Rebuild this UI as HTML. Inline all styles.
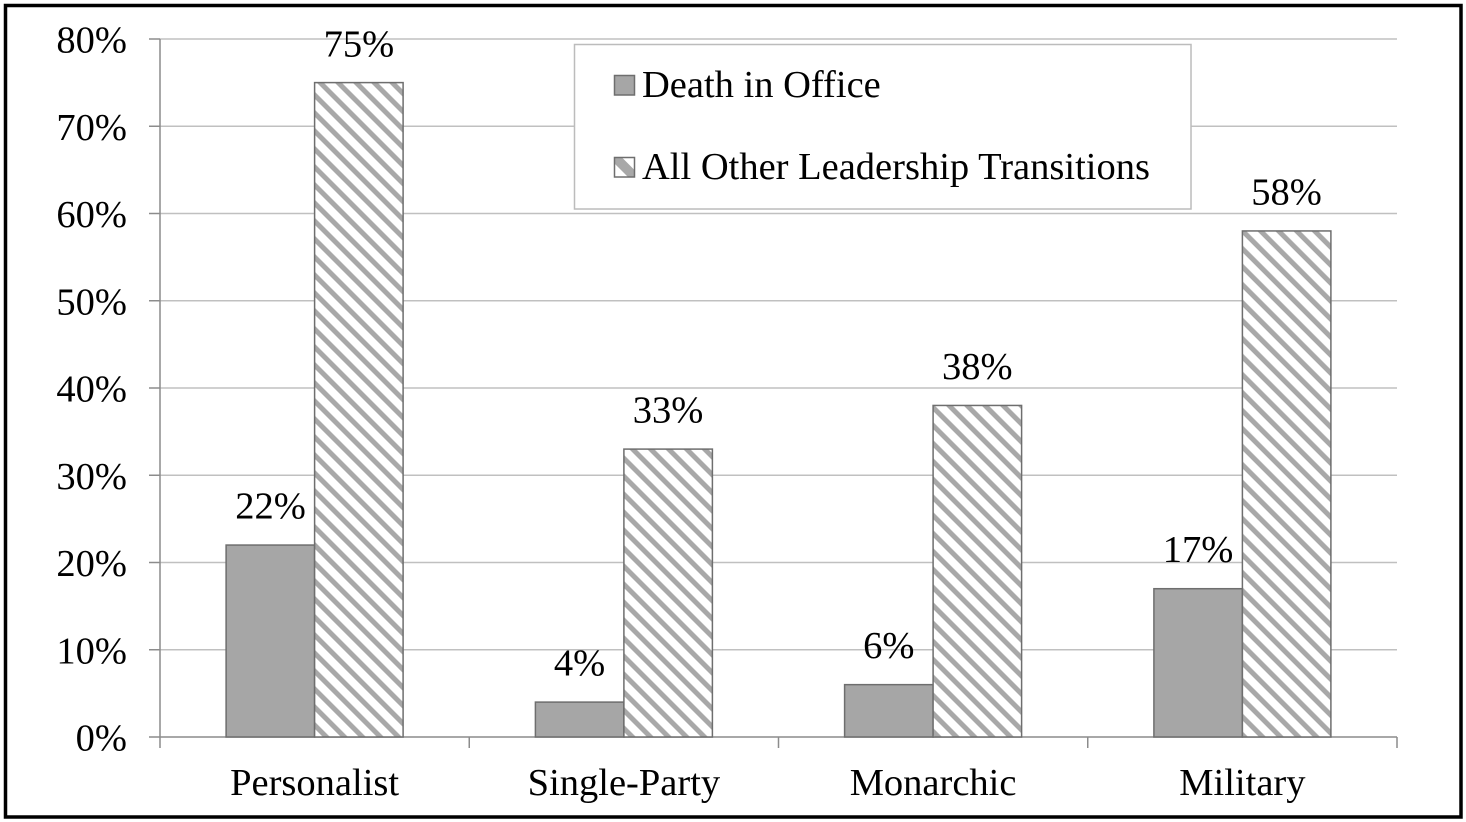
<!DOCTYPE html>
<html>
<head>
<meta charset="utf-8">
<style>
  html, body { margin:0; padding:0; background:#fff; }
  svg { display:block; }
  text { font-family: "Liberation Serif", "Times New Roman", serif; fill:#000; }
</style>
</head>
<body>
<svg width="1466" height="822" viewBox="0 0 1466 822" xmlns="http://www.w3.org/2000/svg">
  <defs>
    <pattern id="hatch" patternUnits="userSpaceOnUse" width="12.73" height="12.73" patternTransform="rotate(-45)">
      <rect x="0" y="0" width="12.73" height="12.73" fill="#ffffff"/>
      <rect x="0" y="0" width="5" height="12.73" fill="#a8a8a8"/>
    </pattern>
    <clipPath id="lgclip">
      <rect x="614.5" y="157.5" width="20" height="19.5"/>
    </clipPath>
  </defs>

  <rect x="0" y="0" width="1466" height="822" fill="#fff"/>

  <!-- gridlines -->
  <g stroke="#c0c0c0" stroke-width="1.5">
    <line x1="160" y1="39" x2="1397" y2="39"/>
    <line x1="160" y1="126.25" x2="1397" y2="126.25"/>
    <line x1="160" y1="213.5" x2="1397" y2="213.5"/>
    <line x1="160" y1="300.75" x2="1397" y2="300.75"/>
    <line x1="160" y1="388" x2="1397" y2="388"/>
    <line x1="160" y1="475.25" x2="1397" y2="475.25"/>
    <line x1="160" y1="562.5" x2="1397" y2="562.5"/>
    <line x1="160" y1="649.75" x2="1397" y2="649.75"/>
  </g>

  <!-- axes -->
  <g stroke="#8c8c8c" stroke-width="1.5">
    <line x1="160" y1="39" x2="160" y2="748"/>
    <line x1="149" y1="737" x2="1397" y2="737"/>
    <line x1="149" y1="39" x2="160" y2="39"/>
    <line x1="149" y1="126.25" x2="160" y2="126.25"/>
    <line x1="149" y1="213.5" x2="160" y2="213.5"/>
    <line x1="149" y1="300.75" x2="160" y2="300.75"/>
    <line x1="149" y1="388" x2="160" y2="388"/>
    <line x1="149" y1="475.25" x2="160" y2="475.25"/>
    <line x1="149" y1="562.5" x2="160" y2="562.5"/>
    <line x1="149" y1="649.75" x2="160" y2="649.75"/>
    <line x1="469.25" y1="737" x2="469.25" y2="748"/>
    <line x1="778.5" y1="737" x2="778.5" y2="748"/>
    <line x1="1087.75" y1="737" x2="1087.75" y2="748"/>
    <line x1="1397" y1="737" x2="1397" y2="748"/>
  </g>

  <!-- bars -->
  <g stroke="#6e6e6e" stroke-width="1.5">
    <rect x="226.1" y="545.05" width="88.5" height="191.95" fill="#a6a6a6"/>
    <rect x="314.6" y="82.6" width="88.5" height="654.4" fill="url(#hatch)"/>

    <rect x="535.4" y="702.1" width="88.5" height="34.9" fill="#a6a6a6"/>
    <rect x="623.9" y="449.1" width="88.5" height="287.9" fill="url(#hatch)"/>

    <rect x="844.6" y="684.65" width="88.5" height="52.35" fill="#a6a6a6"/>
    <rect x="933.1" y="405.45" width="88.5" height="331.55" fill="url(#hatch)"/>

    <rect x="1153.9" y="588.7" width="88.5" height="148.3" fill="#a6a6a6"/>
    <rect x="1242.4" y="230.95" width="88.5" height="506.05" fill="url(#hatch)"/>
  </g>

  <!-- y labels -->
  <g font-size="38.5" text-anchor="end">
    <text x="127" y="52.5">80%</text>
    <text x="127" y="139.75">70%</text>
    <text x="127" y="227">60%</text>
    <text x="127" y="314.25">50%</text>
    <text x="127" y="401.5">40%</text>
    <text x="127" y="488.75">30%</text>
    <text x="127" y="576">20%</text>
    <text x="127" y="663.25">10%</text>
    <text x="127" y="750.5">0%</text>
  </g>

  <!-- data labels -->
  <g font-size="38.5" text-anchor="middle">
    <text x="270.6" y="518.5">22%</text>
    <text x="358.9" y="56.5">75%</text>
    <text x="579.6" y="675.5">4%</text>
    <text x="668.1" y="422.5">33%</text>
    <text x="888.8" y="658">6%</text>
    <text x="977.3" y="379">38%</text>
    <text x="1198.1" y="562">17%</text>
    <text x="1286.6" y="204.5">58%</text>
  </g>

  <!-- x labels -->
  <g font-size="38.5" text-anchor="middle">
    <text x="314.6" y="795">Personalist</text>
    <text x="623.9" y="795">Single-Party</text>
    <text x="933.1" y="795">Monarchic</text>
    <text x="1242.4" y="795">Military</text>
  </g>

  <!-- legend -->
  <rect x="574.5" y="44.5" width="616.5" height="164.5" fill="#fff" stroke="#bcbcbc" stroke-width="1.5"/>
  <rect x="614.5" y="75.5" width="20" height="19.5" fill="#a6a6a6" stroke="#6e6e6e" stroke-width="1.5"/>
  <rect x="614.5" y="157.5" width="20" height="19.5" fill="#ffffff"/>
  <g clip-path="url(#lgclip)">
    <polygon points="614.5,157.5 622,157.5 634.5,170 634.5,177 628,177 614.5,163.5" fill="#a8a8a8"/>
  </g>
  <rect x="614.5" y="157.5" width="20" height="19.5" fill="none" stroke="#6e6e6e" stroke-width="1.5"/>
  <text x="642" y="97" font-size="38.5">Death in Office</text>
  <text x="642" y="179" font-size="38.5">All Other Leadership Transitions</text>

  <!-- outer border -->
  <rect x="5.5" y="5.5" width="1455.5" height="811.5" fill="none" stroke="#000" stroke-width="3.5"/>
</svg>
</body>
</html>
